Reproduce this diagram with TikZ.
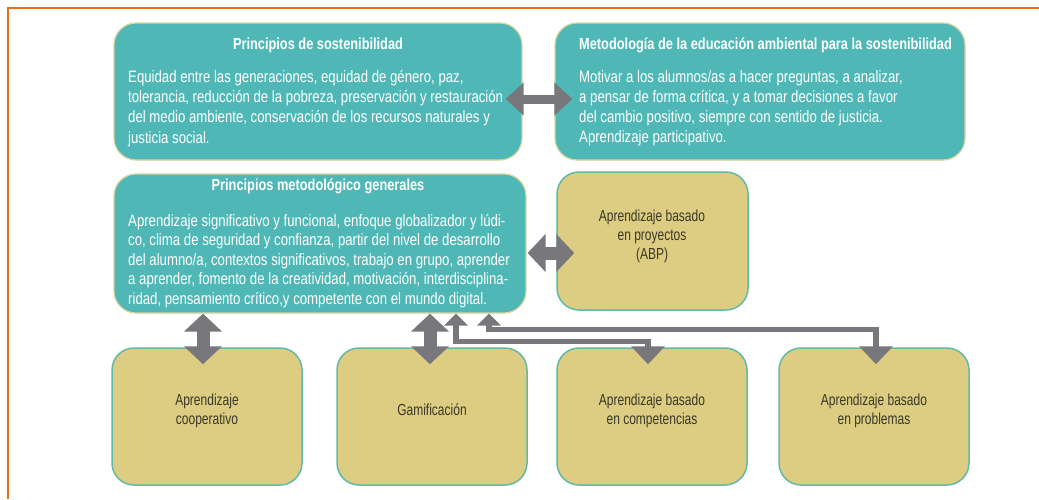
\documentclass[tikz,border=0pt]{standalone}
\usepackage{fontspec}
\setmainfont{Liberation Sans}[FakeStretch=0.8]
\newfontfamily\narrowf{Liberation Sans}[FakeStretch=0.75]
\usetikzlibrary{arrows.meta}
\definecolor{tealf}{HTML}{4FB8B6}
\definecolor{tealedge}{HTML}{D8D49C}
\definecolor{olivef}{HTML}{DCCD82}
\definecolor{oliveedge}{HTML}{62B9A8}
\definecolor{olivetext}{HTML}{3A3826}
\definecolor{arrowgray}{HTML}{78787C}
\definecolor{frameorange}{HTML}{E8701A}
\tikzset{
  tbox/.style={draw=tealedge, fill=tealf, line width=1.2pt, rounded corners=22pt, inner sep=0pt},
  obox/.style={draw=oliveedge, fill=olivef, line width=1.5pt, rounded corners=22pt, inner sep=0pt},
  ttl/.style={text=white, font=\fontsize{16}{18}\selectfont\bfseries, inner sep=0pt},
  bod/.style={text=white, align=left, font=\fontsize{16.5}{20.1}\selectfont, inner sep=0pt},
  olab/.style={text=olivetext, align=center, font=\narrowf\fontsize{16}{19}\selectfont, inner sep=0pt},
  bigarrow/.style={draw=arrowgray, line width=13pt, {Triangle[width=37pt,length=18pt]}-{Triangle[width=37pt,length=18pt]}},
  midarrow/.style={draw=arrowgray, line width=9pt, {Triangle[width=32pt,length=18pt]}-{Triangle[width=32pt,length=18pt]}},
  thinarrow/.style={draw=arrowgray, line width=5.5pt, {Triangle[width=23pt,length=12pt]}-{Triangle[width=33pt,length=18pt]}}
}
\begin{document}
\begin{tikzpicture}[x=1pt,y=-1pt]
\useasboundingbox (0,0) rectangle (1039,499);
\fill[white] (0,0) rectangle (1039,499);
\draw[frameorange, line width=2.5pt] (8,499) -- (8,8) -- (1039,8);

% boxes
\node[tbox, minimum width=408pt, minimum height=137pt] (ps) at (318,91.5) {};
\node[tbox, minimum width=410pt, minimum height=137pt] (meto) at (760,91.5) {};
\node[tbox, minimum width=412pt, minimum height=139pt] (pmg) at (320,243.5) {};
\node[obox, minimum width=191pt, minimum height=138pt] (abp) at (652.5,241) {};
\node[obox, minimum width=190pt, minimum height=137pt] (coop) at (207,416.5) {};
\node[obox, minimum width=190pt, minimum height=137pt] (gam) at (432,416.5) {};
\node[obox, minimum width=190pt, minimum height=137pt] (comp) at (652,416.5) {};
\node[obox, minimum width=190pt, minimum height=137pt] (prob) at (874,416.5) {};

% texts
\node[ttl] (psT) at (318,45) {Principios de sostenibilidad};
\node[bod, anchor=west] (psB) at (128,108.5) {Equidad entre las generaciones, equidad de género, paz,\\tolerancia, reducción de la pobreza, preservación y restauración\\del medio ambiente, conservación de los recursos naturales y\\justicia social.};
\node[ttl, anchor=west] (metoT) at (579,45) {Metodología de la educación ambiental para la sostenibilidad};
\node[bod, anchor=west] (metoB) at (579,108.5) {Motivar a los alumnos/as a hacer preguntas, a analizar,\\a pensar de forma crítica, y a tomar decisiones a favor\\del cambio positivo, siempre con sentido de justicia.\\Aprendizaje participativo.};
\node[ttl] (pmgT) at (318,186) {Principios metodológico generales};
\node[bod, anchor=west, font=\fontsize{16.5}{19.5}\selectfont] (pmgB) at (128,261) {Aprendizaje significativo y funcional, enfoque globalizador y lúdi-\\co, clima de seguridad y confianza, partir del nivel de desarrollo\\del alumno/a, contextos significativos, trabajo en grupo, aprender\\a aprender, fomento de la creatividad, motivación, interdisciplina-\\ridad, pensamiento crítico,y competente con el mundo digital.};
\node[olab] (abpT) at (652,236) {Aprendizaje basado\\en proyectos\\(ABP)};
\node[olab] (coopT) at (207,411) {Aprendizaje\\cooperativo};
\node[olab] (gamT) at (432,410) {Gamificación};
\node[olab] (compT) at (652,411) {Aprendizaje basado\\en competencias};
\node[olab] (probT) at (874,411) {Aprendizaje basado\\en problemas};

% connectors
\draw[midarrow] ([xshift=-17pt,yshift=-7.5pt]ps.east) -- ([xshift=18pt,yshift=-7.5pt]meto.west);
\draw[bigarrow] ([xshift=1pt,yshift=-9.5pt]pmg.east) -- ([xshift=18pt,yshift=-12pt]abp.west);
\draw[bigarrow] ([xshift=-4pt]coop.north |- pmg.south) -- ([xshift=-4pt,yshift=-17pt]coop.north);
\draw[bigarrow] ([xshift=-2pt]gam.north |- pmg.south) -- ([xshift=-2pt,yshift=-17pt]gam.north);
\draw[thinarrow] ([xshift=136pt]pmg.south) -- ++(0,28) -| ([xshift=-4pt,yshift=-17pt]comp.north);
\draw[thinarrow] ([xshift=169pt]pmg.south) -- ++(0,16) -| ([xshift=2pt,yshift=-17pt]prob.north);
\end{tikzpicture}
\end{document}
